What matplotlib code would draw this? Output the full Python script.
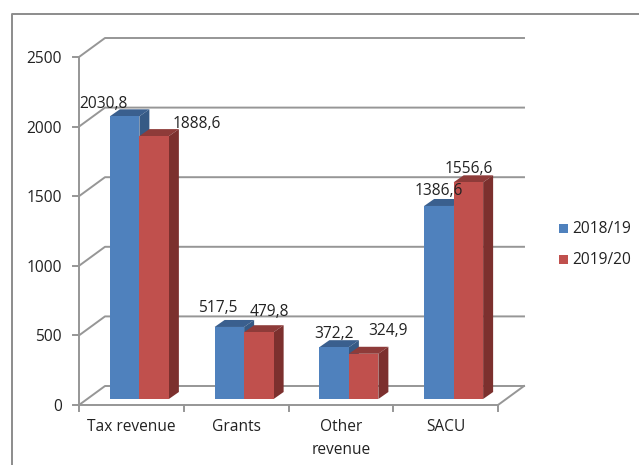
import matplotlib
matplotlib.use("Agg")
import matplotlib.pyplot as plt
from matplotlib.patches import Polygon, Rectangle
from matplotlib.lines import Line2D

categories = ["Tax revenue", "Grants", "Other\nrevenue", "SACU"]
series_names = ["2018/19", "2019/20"]
values_2018 = [2030.8, 517.5, 372.2, 1386.6]
values_2019 = [1888.6, 479.8, 324.9, 1556.6]
y_ticks = [0, 500, 1000, 1500, 2000, 2500]
front_colors = ["#4F81BD", "#C0504D"]
top_colors = ["#3A5F8E", "#8E3B39"]
side_colors = ["#365A85", "#7C302E"]
label_offsets = [[(-21, 15), (43, 15)], [(-12, 21), (11, 23)], [(0, 16), (24, 25)], [(0, 17), (0, 16)]]

W, H = 639, 465
FS = 11.2
TXT = "#222222"
plt.rcParams["font.family"] = ["Open Sans", "DejaVu Sans"]
fig = plt.figure(figsize=(W / 100, H / 100), dpi=100, facecolor="white")
L, R, B, T = 79, 498, 405, 57
ax = fig.add_axes([L / W, 1 - B / H, (R - L) / W, (B - T) / H])
ax.set_xlim(-0.5, 3.5)
ax.set_ylim(0, 2500)
ax.patch.set_visible(False)
for s in ax.spines.values():
    s.set_visible(False)

GRID = "#969696"
px = (R - L) / 4          # pixels per category
py = (B - T) / 2500       # pixels per unit
DX, DY = 26 / px, 19 / py  # full depth of the floor, data units
lw = 1.4

# figure frame
fig.add_artist(Line2D([12 / W, 12 / W, 1], [0, 1 - 14 / H, 1 - 14 / H], color="#8C8C8C", lw=1.4))

# walls and floor
for v in y_ticks:
    x0 = -0.5
    ax.plot([x0, x0 + DX, 3.5 + DX], [v, v + DY, v + DY], color=GRID, lw=lw, clip_on=False, zorder=1)
    ax.plot([x0 - 6 / px, x0], [v, v], color=GRID, lw=lw, clip_on=False, zorder=1)
ax.plot([-0.5, -0.5], [0, 2500], color=GRID, lw=lw, zorder=1, clip_on=False)
ax.plot([-0.5, 3.5, 3.5 + DX], [0, 0, DY], color=GRID, lw=lw, clip_on=False, zorder=1)
for i in range(5):
    ax.plot([i - 0.5, i - 0.5], [0, -5.5 / py], color=GRID, lw=lw, clip_on=False, zorder=1)

ax.set_xticks([])
ax.set_yticks([])
for v in y_ticks:
    ax.annotate(str(v), (-0.5, v), xytext=(-17, -2), textcoords="offset pixels", ha="right",
                va="center", fontsize=FS, color=TXT)
for i, c in enumerate(categories):
    ax.annotate(c, (i, 0), xytext=(0, -14), textcoords="offset pixels", ha="center", va="top",
                fontsize=FS, color=TXT, linespacing=1.6)

# bars: front face shifted onto the floor's mid depth
bw = 29.5 / px
shift_x, shift_y = 8 / px, 6 / py
depth_x, depth_y = 10 / px, 7 / py
for k, vals in enumerate([values_2018, values_2019]):
    xs = [i + (k - 0.5) * bw + shift_x for i in range(4)]
    ax.bar(xs, vals, width=bw, bottom=shift_y, color=front_colors[k], zorder=3 + k * 2, clip_on=False)
    for i, (x, v) in enumerate(zip(xs, vals)):
        xl, xr = x - bw / 2, x + bw / 2
        yt, yb = v + shift_y, shift_y
        ax.add_patch(Polygon([(xl, yt), (xl + depth_x, yt + depth_y), (xr + depth_x, yt + depth_y), (xr, yt)],
                             color=top_colors[k], lw=0, zorder=2 + k * 2, clip_on=False))
        ax.add_patch(Polygon([(xr, yb), (xr + depth_x, yb + depth_y), (xr + depth_x, yt + depth_y), (xr, yt)],
                             color=side_colors[k], lw=0, zorder=2 + k * 2, clip_on=False))
        ox, oy = label_offsets[i][k]
        ax.annotate(f"{v:.1f}".replace(".", ","), (x, yt), xytext=(ox, oy - 2.5), textcoords="offset pixels",
                    ha="center", va="center", fontsize=FS, color=TXT, zorder=10)

# legend
for k, name in enumerate(series_names):
    y = 1 - (228.5 + k * 31) / H
    fig.add_artist(Rectangle((558.5 / W, y - 4.5 / H), 9 / W, 9 / H, color=front_colors[k], lw=0))
    fig.text(572.5 / W, y, name, fontsize=FS, color=TXT, va="center", ha="left")

fig.savefig("out.png", dpi=100, facecolor="white")
